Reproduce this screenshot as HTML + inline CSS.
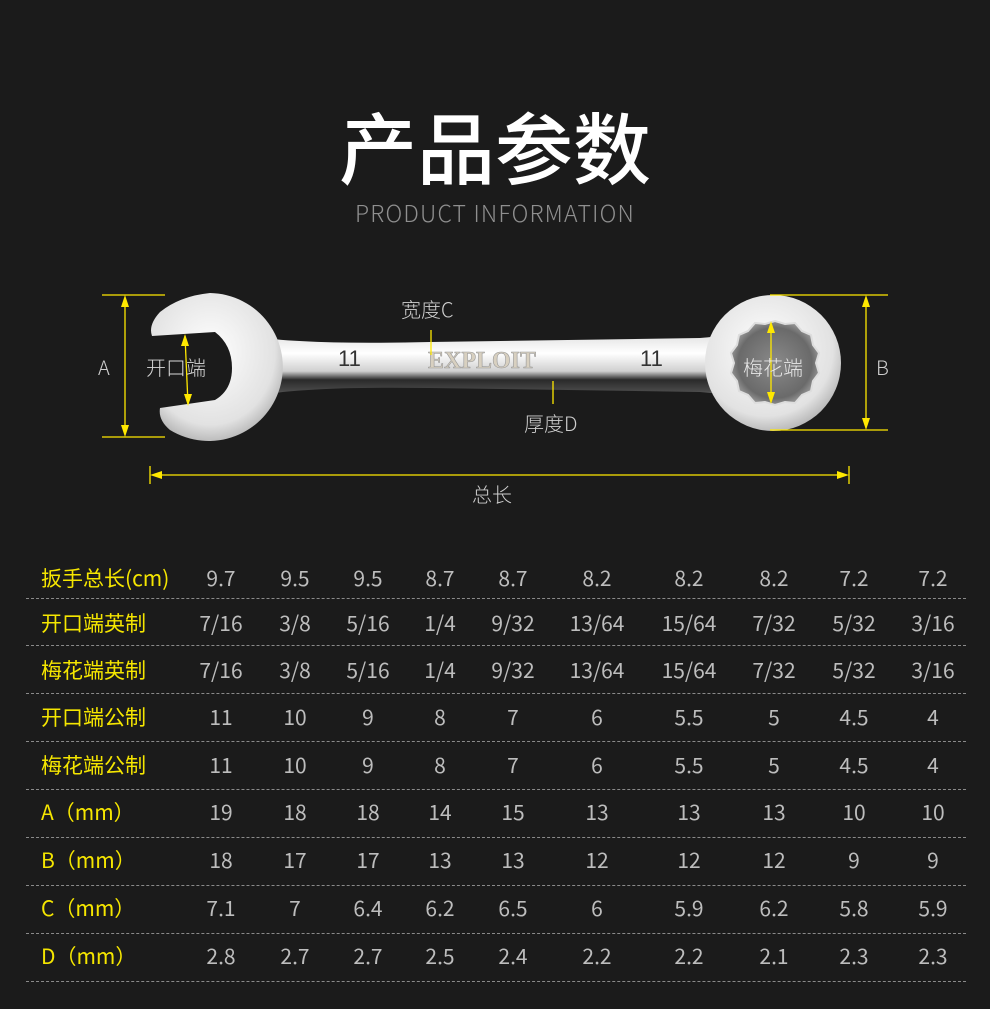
<!DOCTYPE html>
<html><head><meta charset="utf-8">
<style>
html,body{margin:0;padding:0;background:#1b1b1b;}
body{width:990px;height:1009px;position:relative;overflow:hidden;font-family:"Liberation Sans","Noto Sans CJK SC",sans-serif;}
.t{position:absolute;white-space:nowrap;}
.row{position:absolute;left:0;width:990px;height:48px;}
.row .lab{position:absolute;left:41px;top:0;line-height:48px;color:#f5e600;font-size:21px;font-family:"Noto Sans CJK SC",sans-serif;}
.row .v{position:absolute;top:0;line-height:48px;color:#bdbdbd;font-size:21px;font-family:"Noto Sans CJK SC",sans-serif;transform:translateX(-50%);}
.dash{position:absolute;left:26px;width:940px;border-top:1px dashed #8a8a8a;}
</style></head><body>
<div class="t" style="left:0;width:990px;text-align:center;top:95px;font-size:78px;font-weight:500;color:#fff;font-family:'Noto Sans CJK SC',sans-serif;line-height:100px;">产品参数</div>
<div class="t" style="left:0;width:990px;text-align:center;top:198px;font-size:23px;color:#8f8f8f;letter-spacing:1.2px;line-height:28px;font-family:'Noto Sans CJK SC','Liberation Sans',sans-serif;font-weight:300;">PRODUCT INFORMATION</div>

<svg width="990" height="520" style="position:absolute;left:0;top:0" xmlns="http://www.w3.org/2000/svg">
<defs>
<linearGradient id="g1" x1="0" y1="0" x2="0" y2="1">
<stop offset="0" stop-color="#d8d8d8"/><stop offset="0.35" stop-color="#ffffff"/><stop offset="0.6" stop-color="#d0d0d0"/><stop offset="0.72" stop-color="#2a2a2a"/><stop offset="0.88" stop-color="#4a4a4a"/><stop offset="1" stop-color="#dcdcdc"/>
</linearGradient>
<radialGradient id="g2" cx="0.45" cy="0.4" r="0.7">
<stop offset="0" stop-color="#ffffff"/><stop offset="0.7" stop-color="#e2e2e2"/><stop offset="1" stop-color="#9a9a9a"/>
</radialGradient>
<radialGradient id="g3" cx="0.5" cy="0.5" r="0.6">
<stop offset="0" stop-color="#8a8a8a"/><stop offset="0.7" stop-color="#6a6a6a"/><stop offset="1" stop-color="#bbb"/>
</radialGradient>
</defs>
<path d="M250 336 Q300 345 430 342 L700 338 Q730 336 750 328 L760 400 Q730 394 700 392 L430 388 Q300 386 250 397 Z" fill="url(#g1)"/>
<path d="M210 293 A74 74 0 1 1 170 430 Q158 420 160 408 L215 400 Q232 390 232 368 Q232 345 215 332 L152 336 Q148 325 160 312 Q180 296 210 293 Z" fill="url(#g2)"/>
<ellipse cx="773" cy="363" rx="68" ry="68" fill="url(#g2)"/>
<path d="M775 321 l10 3 10-1 7 8 9 4 2 10 6 8-3 10 3 10-6 8-2 10-9 4-7 8-10-1-10 3-10-3-10 1-7-8-9-4-2-10-6-8 3-10-3-10 6-8 2-10 9-4 7-8 10 1z" fill="url(#g3)" stroke="#ddd" stroke-width="2"/>
<text x="338" y="366" font-size="22" fill="#333" font-family="Liberation Sans">11</text>
<text x="640" y="366" font-size="22" fill="#333" font-family="Liberation Sans">11</text>
<text x="428" y="368" font-size="24" fill="#d8d0c0" stroke="#999" stroke-width="0.6" font-family="Liberation Serif" font-weight="bold">EXPLOIT</text>
<g stroke="#ffe800" stroke-width="1.3" fill="#ffe800">
<line x1="102" y1="295" x2="165" y2="295"/><line x1="102" y1="437" x2="165" y2="437"/>
<line x1="125" y1="300" x2="125" y2="432"/>
<path d="M125 295 l-4 12 h8z M125 437 l-4 -12 h8z" stroke="none"/>
<line x1="185" y1="336" x2="188" y2="404"/>
<path d="M185 334 l-4 12 h8z M188 406 l-4 -12 h8z" stroke="none"/>
<line x1="770" y1="295" x2="888" y2="295"/><line x1="770" y1="430" x2="888" y2="430"/>
<line x1="866" y1="300" x2="866" y2="425"/>
<path d="M866 295 l-4 12 h8z M866 430 l-4 -12 h8z" stroke="none"/>
<line x1="771" y1="325" x2="771" y2="400"/>
<path d="M771 321 l-4 12 h8z M771 404 l-4 -12 h8z" stroke="none"/>
<line x1="431" y1="330" x2="431" y2="355"/>
<line x1="553" y1="381" x2="553" y2="404"/>
<line x1="150" y1="466" x2="150" y2="484"/><line x1="849" y1="466" x2="849" y2="484"/>
<line x1="155" y1="475" x2="844" y2="475"/>
<path d="M150 475 l12 -4 v8z M849 475 l-12 -4 v8z" stroke="none"/>
</g>
<g font-family="Noto Sans CJK SC, Liberation Sans, sans-serif" font-size="20" fill="#cfcfcf" font-weight="300">
<text x="98" y="375">A</text>
<text x="876" y="375">B</text>
<text x="146" y="375" fill="#d8d8d8">开口端</text>
<text x="743" y="375" fill="#e8e8e8">梅花端</text>
<text x="401" y="317">宽度C</text>
<text x="524" y="431">厚度D</text>
<text x="472" y="502">总长</text>
</g>
</svg>

<div class="row" style="top:554px"><span class="lab">扳手总长(cm)</span><span class="v" style="left:221px">9.7</span><span class="v" style="left:295px">9.5</span><span class="v" style="left:368px">9.5</span><span class="v" style="left:440px">8.7</span><span class="v" style="left:513px">8.7</span><span class="v" style="left:597px">8.2</span><span class="v" style="left:689px">8.2</span><span class="v" style="left:774px">8.2</span><span class="v" style="left:854px">7.2</span><span class="v" style="left:933px">7.2</span></div>
<div class="dash" style="top:598px"></div>
<div class="row" style="top:599px"><span class="lab">开口端英制</span><span class="v" style="left:221px">7/16</span><span class="v" style="left:295px">3/8</span><span class="v" style="left:368px">5/16</span><span class="v" style="left:440px">1/4</span><span class="v" style="left:513px">9/32</span><span class="v" style="left:597px">13/64</span><span class="v" style="left:689px">15/64</span><span class="v" style="left:774px">7/32</span><span class="v" style="left:854px">5/32</span><span class="v" style="left:933px">3/16</span></div>
<div class="dash" style="top:645px"></div>
<div class="row" style="top:646px"><span class="lab">梅花端英制</span><span class="v" style="left:221px">7/16</span><span class="v" style="left:295px">3/8</span><span class="v" style="left:368px">5/16</span><span class="v" style="left:440px">1/4</span><span class="v" style="left:513px">9/32</span><span class="v" style="left:597px">13/64</span><span class="v" style="left:689px">15/64</span><span class="v" style="left:774px">7/32</span><span class="v" style="left:854px">5/32</span><span class="v" style="left:933px">3/16</span></div>
<div class="dash" style="top:693px"></div>
<div class="row" style="top:693px"><span class="lab">开口端公制</span><span class="v" style="left:221px">11</span><span class="v" style="left:295px">10</span><span class="v" style="left:368px">9</span><span class="v" style="left:440px">8</span><span class="v" style="left:513px">7</span><span class="v" style="left:597px">6</span><span class="v" style="left:689px">5.5</span><span class="v" style="left:774px">5</span><span class="v" style="left:854px">4.5</span><span class="v" style="left:933px">4</span></div>
<div class="dash" style="top:741px"></div>
<div class="row" style="top:741px"><span class="lab">梅花端公制</span><span class="v" style="left:221px">11</span><span class="v" style="left:295px">10</span><span class="v" style="left:368px">9</span><span class="v" style="left:440px">8</span><span class="v" style="left:513px">7</span><span class="v" style="left:597px">6</span><span class="v" style="left:689px">5.5</span><span class="v" style="left:774px">5</span><span class="v" style="left:854px">4.5</span><span class="v" style="left:933px">4</span></div>
<div class="dash" style="top:789px"></div>
<div class="row" style="top:788px"><span class="lab">A（mm）</span><span class="v" style="left:221px">19</span><span class="v" style="left:295px">18</span><span class="v" style="left:368px">18</span><span class="v" style="left:440px">14</span><span class="v" style="left:513px">15</span><span class="v" style="left:597px">13</span><span class="v" style="left:689px">13</span><span class="v" style="left:774px">13</span><span class="v" style="left:854px">10</span><span class="v" style="left:933px">10</span></div>
<div class="dash" style="top:837px"></div>
<div class="row" style="top:836px"><span class="lab">B（mm）</span><span class="v" style="left:221px">18</span><span class="v" style="left:295px">17</span><span class="v" style="left:368px">17</span><span class="v" style="left:440px">13</span><span class="v" style="left:513px">13</span><span class="v" style="left:597px">12</span><span class="v" style="left:689px">12</span><span class="v" style="left:774px">12</span><span class="v" style="left:854px">9</span><span class="v" style="left:933px">9</span></div>
<div class="dash" style="top:885px"></div>
<div class="row" style="top:884px"><span class="lab">C（mm）</span><span class="v" style="left:221px">7.1</span><span class="v" style="left:295px">7</span><span class="v" style="left:368px">6.4</span><span class="v" style="left:440px">6.2</span><span class="v" style="left:513px">6.5</span><span class="v" style="left:597px">6</span><span class="v" style="left:689px">5.9</span><span class="v" style="left:774px">6.2</span><span class="v" style="left:854px">5.8</span><span class="v" style="left:933px">5.9</span></div>
<div class="dash" style="top:933px"></div>
<div class="row" style="top:932px"><span class="lab">D（mm）</span><span class="v" style="left:221px">2.8</span><span class="v" style="left:295px">2.7</span><span class="v" style="left:368px">2.7</span><span class="v" style="left:440px">2.5</span><span class="v" style="left:513px">2.4</span><span class="v" style="left:597px">2.2</span><span class="v" style="left:689px">2.2</span><span class="v" style="left:774px">2.1</span><span class="v" style="left:854px">2.3</span><span class="v" style="left:933px">2.3</span></div>
<div class="dash" style="top:981px"></div>
</body></html>
